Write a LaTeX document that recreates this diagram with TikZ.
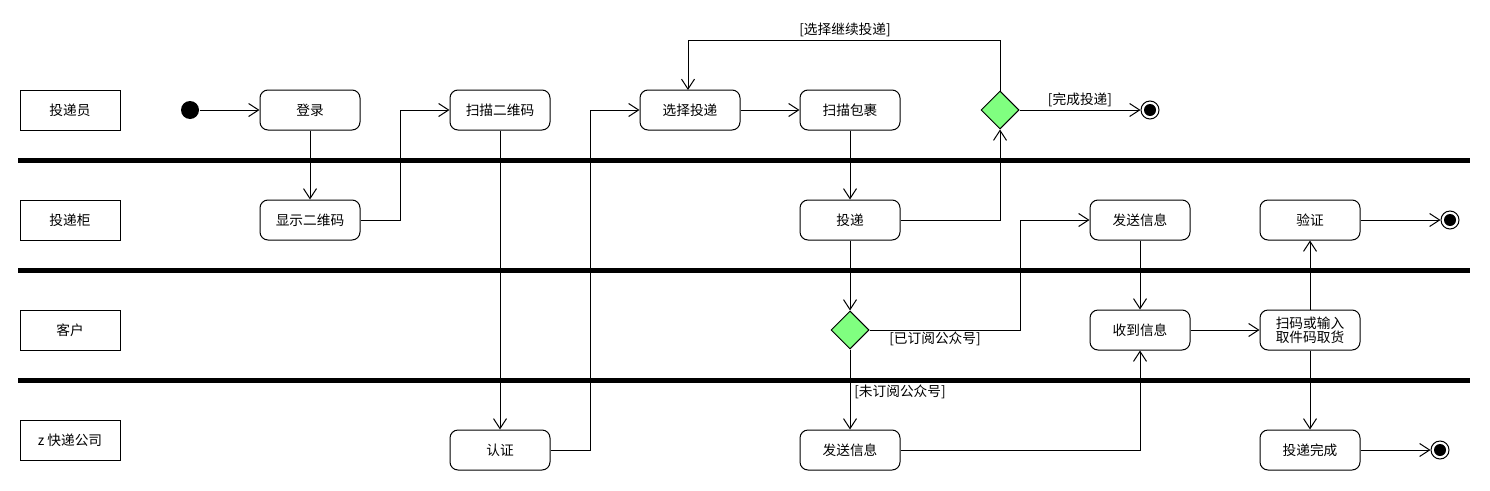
\documentclass[tikz,border=0pt]{standalone}
\usepackage{fontspec}
\setmainfont{Noto Sans CJK SC}
\usetikzlibrary{arrows.meta,shapes.geometric}
\definecolor{dgreen}{RGB}{128,255,128}
\begin{document}
\begin{tikzpicture}[x=1pt,y=-1pt, font=\fontsize{13.7}{16}\selectfont, line width=1pt,
 act/.style={draw, rounded corners=8pt, minimum width=100pt, minimum height=40pt, inner sep=0pt, align=center},
 lane/.style={draw, minimum width=100pt, minimum height=40pt, inner sep=0pt},
 dec/.style={diamond, draw, fill=dgreen, minimum width=38pt, minimum height=38pt, inner sep=0pt},
 fin/.style={circle, draw, fill=white, minimum size=18pt, inner sep=0pt},
 arr/.style={-{Straight Barb[length=10pt,width=13pt]}},
 sep/.style={line width=5pt},
 guard/.style={inner sep=1pt}]
\useasboundingbox (0,0) rectangle (1490,490);
% separators
\draw[sep] (18,160.5) -- (1470,160.5);
\draw[sep] (18,270.5) -- (1470,270.5);
\draw[sep] (18,380.5) -- (1470,380.5);
% lane labels
\node[lane] (l1) at (70,110) {投递员};
\node[lane] (l2) at (70,220) {投递柜};
\node[lane] (l3) at (70,330) {客户};
\node[lane] (l4) at (70,440) {z 快递公司};
% nodes
\node[circle, fill=black, minimum size=18pt, inner sep=0pt] (start) at (190,110) {};
\node[act] (login) at (310,110) {登录};
\node[act] (showqr) at (310,220) {显示二维码};
\node[act] (scanqr) at (500,110) {扫描二维码};
\node[act] (auth) at (500,450) {认证};
\node[act] (choose) at (690,110) {选择投递};
\node[act] (scanpkg) at (850,110) {扫描包裹};
\node[act] (deliver) at (850,220) {投递};
\node[dec] (d1) at (1000,110) {};
\node[fin] (e1) at (1150,110) {};
\node[act] (send2) at (1140,220) {发送信息};
\node[act] (verify) at (1310,220) {验证};
\node[fin] (e2) at (1450,220) {};
\node[dec] (d2) at (850,330) {};
\node[act] (recv) at (1140,330) {收到信息};
\node[act] (pick) at (1310,330) {扫码或输入\\[-2pt]取件码取货};
\node[act] (send4) at (850,450) {发送信息};
\node[act] (done) at (1310,450) {投递完成};
\node[fin] (e3) at (1440,450) {};
\foreach \e in {e1,e2,e3} \fill (\e) circle (6);
% connectors
\draw[arr] (start) -- (login);
\draw[arr] (login) -- (showqr);
\draw[arr] (showqr.east) -- (400,220) -- (400,110) -- (scanqr.west);
\draw[arr] (scanqr) -- (auth);
\draw[arr] (auth.east) -- (590,450) -- (590,110) -- (choose.west);
\draw[arr] (choose) -- (scanpkg);
\draw[arr] (scanpkg) -- (deliver);
\draw[arr] (deliver.east) -- (1000,220) -- (d1.south);
\draw[arr] (d1.north) -- (1000,40) -- (688,40) -- (688,90);
\node[guard] (g1) at (845,30) {[选择继续投递]};
\draw[arr] (d1.east) -- (e1.west);
\node[guard] (g2) at (1080,100) {[完成投递]};
\draw[arr] (deliver) -- (d2.north);
\draw[arr] (d2.east) -- (1020,330) -- (1020,220) -- (send2.west);
\node[guard] (g3) at (935,339) {[已订阅公众号]};
\draw[arr] (d2.south) -- (send4.north);
\node[guard] (g4) at (900,392) {[未订阅公众号]};
\draw[arr] (send4.east) -- (1140,450) -- (recv.south);
\draw[arr] (send2) -- (recv);
\draw[arr] (recv) -- (pick);
\draw[arr] (pick) -- (verify);
\draw[arr] (pick) -- (done);
\draw[arr] (verify) -- (e2.west);
\draw[arr] (done) -- (e3.west);
\end{tikzpicture}
\end{document}
